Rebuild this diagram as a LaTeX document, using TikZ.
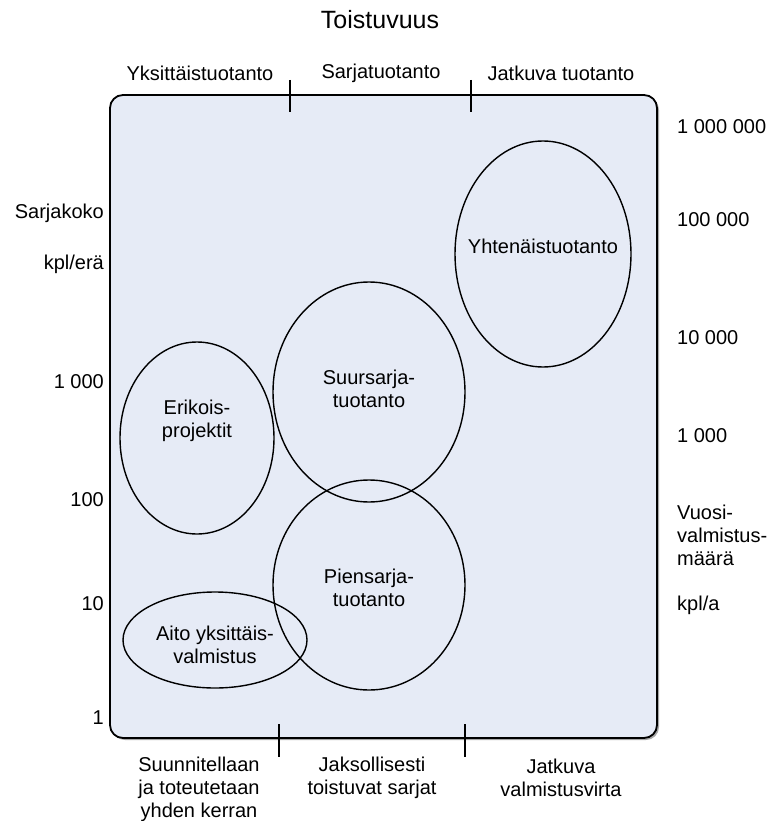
\documentclass[tikz,border=0pt]{standalone}
\usepackage{fontspec}
\setmainfont{Liberation Sans}
\definecolor{panel}{HTML}{E6EBF6}
\tikzset{
  lbl/.style={font=\fontsize{20}{23}\selectfont, inner sep=0pt, align=center},
  zone/.style={draw=black, line width=1.4pt},
  tick/.style={draw=black, line width=1.6pt},
}
\begin{document}
\begin{tikzpicture}[x=1pt,y=-1pt]
\useasboundingbox (0,0) rectangle (767,821);
% panel with faint shadow
\fill[gray!70, rounded corners=13pt] (112,97) rectangle (659,740);
\draw[fill=panel, line width=1.8pt, rounded corners=13pt] (110,95) rectangle (657,738);

% ticks
\coordinate (ta1) at (290,80); \coordinate (ta2) at (290,112);
\coordinate (tb1) at (471,80); \coordinate (tb2) at (471,112);
\coordinate (tc1) at (279,724); \coordinate (tc2) at (279,757);
\coordinate (td1) at (465,724); \coordinate (td2) at (465,757);
\draw[tick] (ta1) -- (ta2);
\draw[tick] (tb1) -- (tb2);
\draw[tick] (tc1) -- (tc2);
\draw[tick] (td1) -- (td2);

% zones
\coordinate (cerik) at (197,438);
\coordinate (csuur) at (369,392);
\coordinate (cpien) at (369,585);
\coordinate (cyht) at (543,254);
\coordinate (caito) at (215,640);
\draw[zone] (cerik) ellipse [x radius=77pt, y radius=96pt];
\draw[zone] (csuur) ellipse [x radius=96pt, y radius=110pt];
\draw[zone] (cpien) ellipse [x radius=96pt, y radius=105pt];
\draw[zone] (cyht) ellipse [x radius=88pt, y radius=113pt];
\draw[zone] (caito) ellipse [x radius=92pt, y radius=48pt];
\node[lbl] (erik) at (197,421) {Erikois-\\projektit};
\node[lbl] (suur) at (369,389) {Suursarja-\\tuotanto};
\node[lbl] (pien) at (369,588) {Piensarja-\\tuotanto};
\node[lbl] (yht) at (543,246) {Yhtenäistuotanto};
\node[lbl] (aito) at (215,645) {Aito yksittäis-\\valmistus};

% headings
\node[lbl, font=\fontsize{25}{30}\selectfont] (title) at (380,20) {Toistuvuus};
\node[lbl] (h1) at (200,73) {Yksittäistuotanto};
\node[lbl] (h2) at (381,73) {Sarjatuotanto};
\node[lbl] (h3) at (561,73) {Jatkuva tuotanto};

% left scale
\node[lbl, anchor=east] (l0) at (104,213) {Sarjakoko};
\node[lbl, anchor=east] (l1) at (104,264) {kpl/erä};
\node[lbl, anchor=east] (l2) at (104,382) {1 000};
\node[lbl, anchor=east] (l3) at (104,500) {100};
\node[lbl, anchor=east] (l4) at (104,604) {10};
\node[lbl, anchor=east] (l5) at (104,718) {1};

% right scale
\node[lbl, anchor=west] (r1) at (677,127) {1 000 000};
\node[lbl, anchor=west] (r2) at (677,220) {100 000};
\node[lbl, anchor=west] (r3) at (677,338) {10 000};
\node[lbl, anchor=west] (r4) at (677,436) {1 000};
\node[lbl, anchor=west, align=left] (r5) at (677,535) {Vuosi-\\valmistus-\\määrä};
\node[lbl, anchor=west] (r6) at (677,605) {kpl/a};

% bottom
\node[lbl] (b1) at (199,789) {Suunnitellaan\\ja toteutetaan\\yhden kerran};
\node[lbl] (b2) at (372,778) {Jaksollisesti\\toistuvat sarjat};
\node[lbl] (b3) at (561,778) {Jatkuva\\valmistusvirta};
\end{tikzpicture}
\end{document}
